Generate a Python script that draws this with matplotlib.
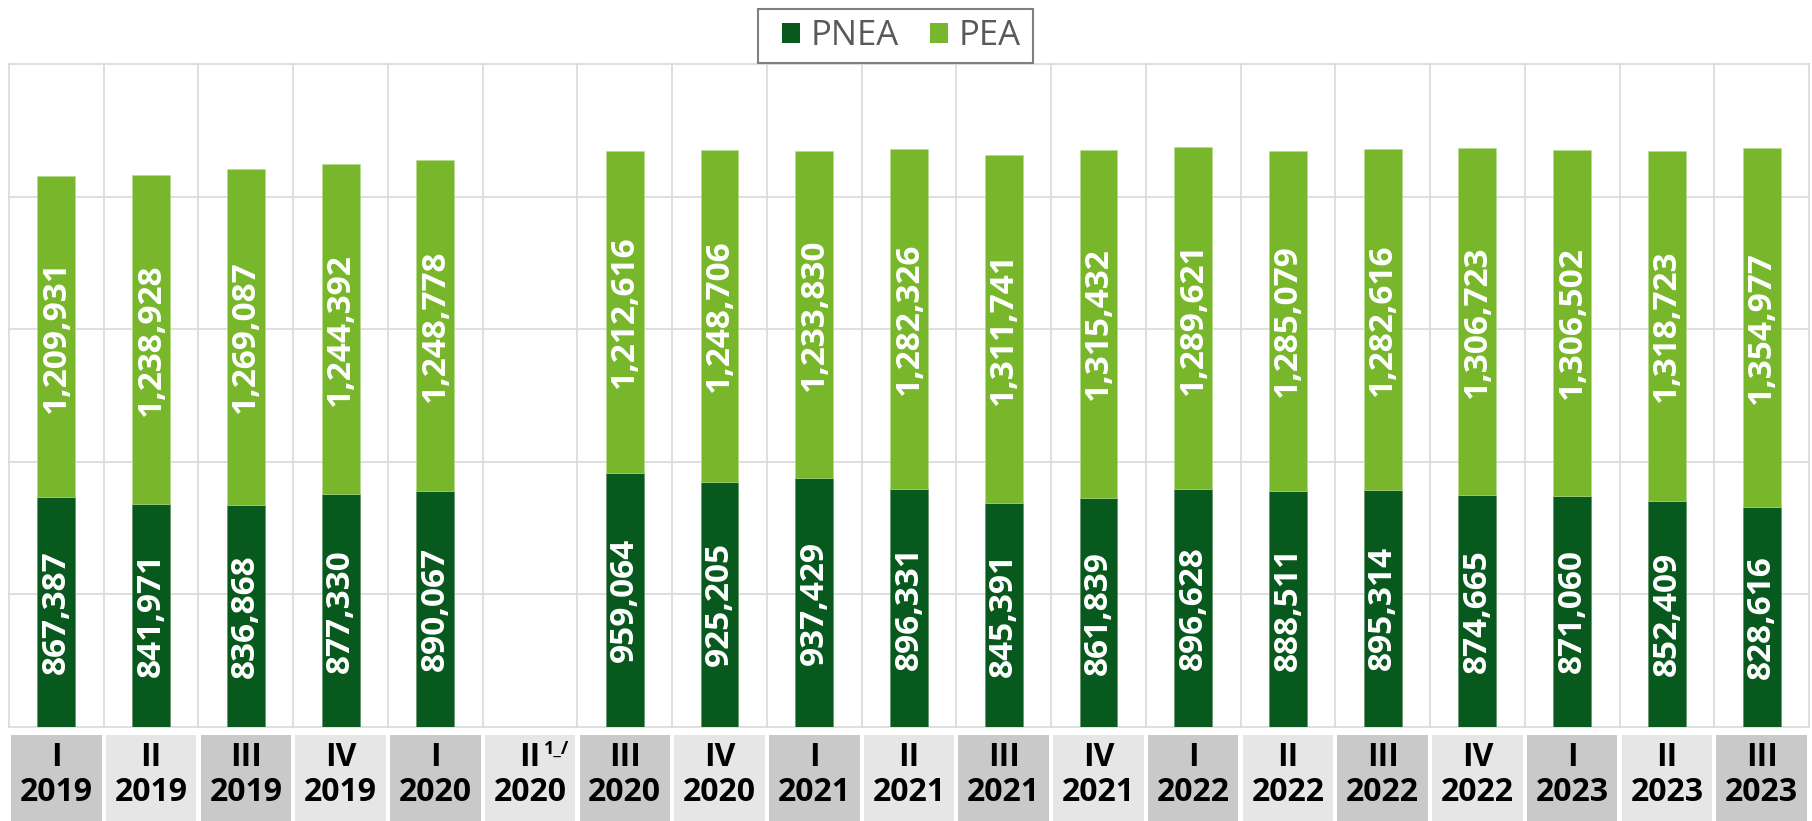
import numpy as np
import matplotlib
matplotlib.use("Agg")
import matplotlib.pyplot as plt
from matplotlib.patches import Rectangle, Patch

quarters = ["I", "II", "III", "IV", "I", "II", "III", "IV", "I", "II", "III", "IV",
            "I", "II", "III", "IV", "I", "II", "III"]
years = ["2019", "2019", "2019", "2019", "2020", "2020", "2020", "2020", "2021", "2021",
         "2021", "2021", "2022", "2022", "2022", "2022", "2023", "2023", "2023"]
pnea = [867387, 841971, 836868, 877330, 890067, np.nan, 959064, 925205, 937429, 896331,
        845391, 861839, 896628, 888511, 895314, 874665, 871060, 852409, 828616]
pea = [1209931, 1238928, 1269087, 1244392, 1248778, np.nan, 1212616, 1248706, 1233830,
       1282326, 1311741, 1315432, 1289621, 1285079, 1282616, 1306723, 1306502, 1318723,
       1354977]
footnote_idx = 5
footnote_text = "1_/"

C_PNEA = "#08591E"
C_PEA = "#78B72B"
C_GRID = "#D9D9D9"
FONT = "Open Sans"

W, H = 1812, 821
fig = plt.figure(figsize=(W / 100, H / 100), dpi=100)
left, right = 9 / W, 1809 / W
ax = fig.add_axes([left, (H - 727) / H, right - left, (727 - 64) / H])
n = len(quarters)
x = np.arange(n)
pnea_a = np.array(pnea, dtype=float)
pea_a = np.array(pea, dtype=float)

ax.set_xlim(-0.5, n - 0.5)
ax.set_ylim(0, 2_500_000)
ax.set_yticks(np.arange(0, 2_500_001, 500_000))
ax.set_xticks(np.arange(-0.5, n, 1.0))
ax.grid(True, color=C_GRID, linewidth=1.2, zorder=0)
ax.set_axisbelow(True)
ax.tick_params(left=False, bottom=False, labelleft=False, labelbottom=False)
for s in ax.spines.values():
    s.set_visible(False)
for gl in ax.get_xgridlines() + ax.get_ygridlines():
    gl.set_clip_on(False)

ax.bar(x, pnea_a, width=0.4, color=C_PNEA, edgecolor="#5a8a60", linewidth=0.4, zorder=2)
ax.bar(x, pea_a, width=0.4, bottom=pnea_a, color=C_PEA, edgecolor="#b5dd8a",
       linewidth=0.4, zorder=2)

for i in range(n):
    if np.isnan(pnea_a[i]):
        continue
    ax.text(x[i], pnea_a[i] / 2, f"{int(pnea_a[i]):,}", rotation=90, ha="center",
            va="center", color="white", fontsize=24, fontweight="bold", family=FONT,
            zorder=3)
    ax.text(x[i], pnea_a[i] + pea_a[i] / 2, f"{int(pea_a[i]):,}", rotation=90,
            ha="center", va="center", color="white", fontsize=24, fontweight="bold",
            family=FONT, zorder=3)

# category label boxes
bax = fig.add_axes([left, 0, right - left, (H - 735) / H])
bax.set_xlim(-0.5, n - 0.5)
bax.set_ylim(0, 1)
bax.axis("off")
gap = 0.022
for i in range(n):
    col = "#C9C9C9" if i % 2 == 0 else "#E6E6E6"
    bax.add_patch(Rectangle((i - 0.5 + gap, 0), 1 - 2 * gap, 1, facecolor=col,
                            edgecolor="none"))
    bax.text(i, 0.74, quarters[i], ha="center", va="center", fontsize=23,
             fontweight="bold", family=FONT, color="black")
    bax.text(i, 0.33, years[i], ha="center", va="center", fontsize=23,
             fontweight="bold", family=FONT, color="black")
    if i == footnote_idx:
        bax.text(i + 0.15, 0.84, footnote_text, ha="left", va="center", fontsize=13,
                 fontweight="bold", family=FONT, color="black")

# legend with manual frame
fig.patches.append(Rectangle((758 / W, 1 - 63 / H), (1033 - 758) / W, 54 / H,
                             transform=fig.transFigure, facecolor="white",
                             edgecolor="#7F7F7F", linewidth=1.5, zorder=5))
handles = [Patch(facecolor=C_PNEA, label="PNEA"), Patch(facecolor=C_PEA, label="PEA")]
leg = fig.legend(handles=handles, loc="center", bbox_to_anchor=(901 / W, 1 - 36 / H),
                 ncol=2, frameon=False, prop={"family": FONT, "size": 25},
                 handlelength=0.52, handleheight=0.52, handletextpad=0.3,
                 columnspacing=0.9, borderpad=0.0, borderaxespad=0.0,
                 labelcolor="#595959")
leg.set_zorder(6)

fig.savefig("out.png", dpi=100)
